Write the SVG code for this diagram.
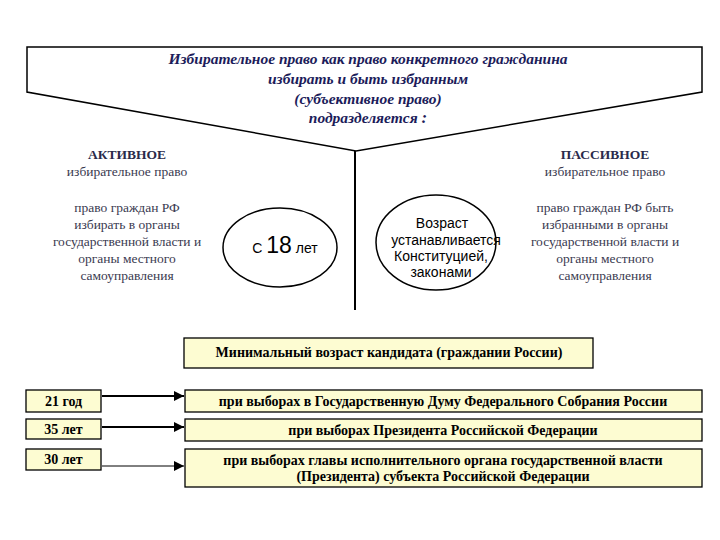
<svg xmlns="http://www.w3.org/2000/svg" width="720" height="540" viewBox="0 0 720 540">
<style>
.title{font-family:"Liberation Serif",serif;font-style:italic;font-weight:bold;font-size:15.5px;fill:#1c1c5a;text-anchor:middle}
.head{font-family:"Liberation Serif",serif;font-weight:bold;font-size:13.5px;fill:#2a2a4a;text-anchor:middle}
.sub{font-family:"Liberation Serif",serif;font-size:13.5px;fill:#3a3a50;text-anchor:middle}
.sans{font-family:"Liberation Sans",Arial,sans-serif;font-size:14px;fill:#000;text-anchor:middle}
.box{fill:#fdfcd2;stroke:#000;stroke-width:1.3}
.bt{font-family:"Liberation Serif",serif;font-weight:bold;font-size:14px;fill:#000;text-anchor:middle}
.ln{stroke:#000;fill:none}
</style>
<defs>
<marker id="ah" markerWidth="10" markerHeight="10" refX="10" refY="5" orient="auto" markerUnits="userSpaceOnUse">
<path d="M0,0 L10,5 L0,10 Z" fill="#000"/>
</marker>
</defs>
<g id="top">
<polygon points="27,47 702,47 702,92 356,151 27,92" fill="#fff" stroke="#000" stroke-width="1.5"/>
<text class="title" x="368" y="64">Избирательное право как право конкретного гражданина</text>
<text class="title" x="368" y="84">избирать и быть избранным</text>
<text class="title" x="368" y="104">(субъективное право)</text>
<text class="title" x="368" y="123">подразделяется <tspan font-size="17">:</tspan></text>
</g>
<g id="active">
<text class="head" x="127" y="159">АКТИВНОЕ</text>
<text class="sub" x="127" y="176">избирательное право</text>
<text class="sub" x="127" y="212">право граждан РФ</text>
<text class="sub" x="127" y="229">избирать  в органы</text>
<text class="sub" x="127" y="246">государственной  власти и</text>
<text class="sub" x="127" y="263">органы местного</text>
<text class="sub" x="127" y="280">самоуправления</text>
</g>
<g id="passive">
<text class="head" x="605" y="159">ПАССИВНОЕ</text>
<text class="sub" x="605" y="176">избирательное право</text>
<text class="sub" x="605" y="212">право граждан РФ быть</text>
<text class="sub" x="605" y="229">избранными в органы</text>
<text class="sub" x="605" y="246">государственной власти и</text>
<text class="sub" x="605" y="263">органы  местного</text>
<text class="sub" x="605" y="280">самоуправления</text>
</g>
<g id="age18">
<ellipse cx="280" cy="247.5" rx="57" ry="39.5" fill="#fff" stroke="#000" stroke-width="1.5"/>
<text class="sans" x="285" y="253">С <tspan font-size="23">18</tspan> лет</text>
</g>
<g id="law">
<ellipse cx="436" cy="242.5" rx="60" ry="47.5" fill="#fff" stroke="#000" stroke-width="1.5"/>
<text class="sans" x="442" y="228">Возраст</text>
<text class="sans" x="446" y="245">устанавливается</text>
<text class="sans" x="441" y="261">Конституцией,</text>
<text class="sans" x="441" y="277">законами</text>
</g>
<g id="minage">
<rect class="box" x="184" y="338" width="409" height="30"/>
<text class="bt" x="389" y="357">Минимальный возраст  кандидата (граждании России)</text>
</g>
<g id="a21">
<rect class="box" x="26" y="390" width="75" height="22"/>
<text class="bt" x="63.5" y="405.5">21 год</text>
</g>
<g id="a35">
<rect class="box" x="26" y="419" width="75" height="20"/>
<text class="bt" x="63.5" y="434">35 лет</text>
</g>
<g id="a30">
<rect class="box" x="26" y="449" width="75" height="21"/>
<text class="bt" x="63.5" y="464">30 лет</text>
</g>
<g id="r1">
<rect class="box" x="185" y="390" width="517" height="22"/>
<text class="bt" x="443" y="405.5">при выборах в Государственную Думу Федерального Собрания России</text>
</g>
<g id="r2">
<rect class="box" x="185" y="419" width="517" height="22"/>
<text class="bt" x="443" y="435">при выборах Президента Российской Федерации</text>
</g>
<g id="r3">
<rect class="box" x="185" y="449" width="517" height="38"/>
<text class="bt" x="443" y="465">при выборах главы исполнительного органа государственной власти</text>
<text class="bt" x="443" y="481">(Президента) субъекта Российской Федерации</text>
</g>
<g id="connectors">
<line class="ln" x1="355" y1="151" x2="355" y2="310" stroke-width="2"/>
<line class="ln" x1="102" y1="396" x2="184" y2="396" stroke-width="2" marker-end="url(#ah)"/>
<line class="ln" x1="102" y1="427" x2="184" y2="427" stroke-width="2" marker-end="url(#ah)"/>
<line class="ln" x1="102" y1="466" x2="184" y2="466" stroke-width="1" marker-end="url(#ah)"/>
</g>
</svg>
